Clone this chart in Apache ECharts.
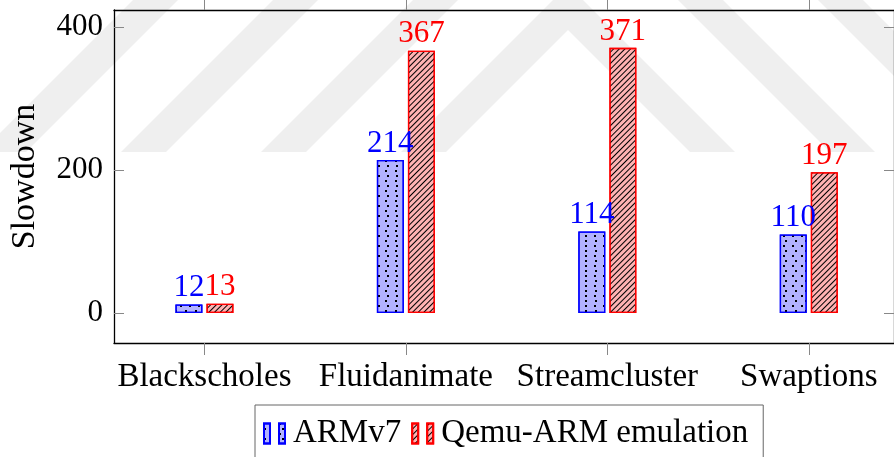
<!DOCTYPE html>
<html>
<head>
<meta charset="utf-8">
<script src="https://cdn.jsdelivr.net/npm/echarts@6/dist/echarts.min.js"></script>
<style>
	html, body { margin: 0; padding: 0; background: #fff; }
	#chart { width: 894px; height: 457px; }
</style>
</head>
<body>
<div id="chart"></div>
<script>
var categories = ['Blackscholes', 'Fluidanimate', 'Streamcluster', 'Swaptions'];
var armv7 = [12, 214, 114, 110];
var qemuArm = [13, 367, 371, 197];
var yTicks = [0, 200, 400];
var xTicks = [0, 1, 2, 3];

var font = '"Liberation Serif", "DejaVu Serif", serif';

function toPairs(values){
	var out = [];
	for(var i = 0; i < values.length; i++)
		out.push([i, values[i]]);
	return out;
}

// faint striped watermark behind the plot
function watermark(){
	var cx = 568, apex = 30, step = 140, thick = 45, bottom = 152;
	var items = [];
	for(var k = 0; k < 4; k++){
		var yi = apex - step * k;
		var yo = yi - thick;
		items.push({
			type: 'polygon',
			silent: true,
			z: -10,
			shape: {
				points: [
					[cx - (bottom - yo), bottom], [cx, yo], [cx + (bottom - yo), bottom],
					[cx + (bottom - yi), bottom], [cx, yi], [cx - (bottom - yi), bottom]
				]
			},
			style: { fill: '#efefef' }
		});
	}
	return items;
}

var dotsDecal = {
	symbol: 'rect',
	symbolSize: 1,
	color: '#000',
	dashArrayX: [[2, 7], [0, 4.5, 2, 2.5]],
	dashArrayY: [2, 2.5],
	rotation: 0
};
var linesDecal = {
	symbol: 'rect',
	symbolSize: 1,
	color: '#000',
	dashArrayX: [1, 0],
	dashArrayY: [1, 2.6],
	rotation: -Math.PI / 4
};

function valueLabel(color){
	return {
		show: true,
		position: 'top',
		distance: 1,
		color: color,
		fontFamily: font,
		fontSize: 31,
		formatter: function(p){ return p.value[1]; }
	};
}

var xMin = -0.449, xMax = 3.423;
var yMin = -42, yMax = 424;

var option = {
	animation: false,
	graphic: watermark(),
	grid: { left: 114, right: -3, top: 10, bottom: 114 },
	legend: {
		left: 255,
		top: 405,
		padding: [12, 15, 20, 8],
		borderColor: '#666',
		borderWidth: 1,
		itemWidth: 21,
		itemHeight: 21,
		itemGap: 10,
		icon: 'path://M0,0h6v20h-6zM15,0h6v20h-6z',
		textStyle: { fontFamily: font, fontSize: 33, color: '#000', padding: [0, 0, 0, 3] },
		data: ['ARMv7', 'Qemu-ARM emulation']
	},
	xAxis: [
		{
			type: 'value',
			min: xMin,
			max: xMax,
			position: 'bottom',
			axisLine: { show: true, onZero: false, lineStyle: { color: '#000', width: 1.3 } },
			axisTick: { show: true, inside: false, length: 12, customValues: xTicks, lineStyle: { color: '#888' } },
			axisLabel: {
				customValues: xTicks,
				margin: 18,
				fontFamily: font,
				fontSize: 33,
				color: '#000',
				formatter: function(v){ return categories[Math.round(v)]; }
			},
			splitLine: { show: false }
		},
		{
			type: 'value',
			min: xMin,
			max: xMax,
			position: 'top',
			axisLine: { show: true, onZero: false, lineStyle: { color: '#000', width: 1.3 } },
			axisTick: { show: true, inside: false, length: 12, customValues: xTicks, lineStyle: { color: '#888' } },
			axisLabel: { show: false },
			splitLine: { show: false }
		}
	],
	yAxis: [
		{
			type: 'value',
			min: yMin,
			max: yMax,
			position: 'left',
			name: 'Slowdown',
			nameLocation: 'middle',
			nameGap: 72,
			nameTextStyle: { fontFamily: font, fontSize: 34, color: '#000' },
			axisLine: { show: true, onZero: false, lineStyle: { color: '#000', width: 1.3 } },
			axisTick: { show: true, inside: true, length: 10, customValues: yTicks, lineStyle: { color: '#888' } },
			axisLabel: { customValues: yTicks, margin: 11, fontFamily: font, fontSize: 31, color: '#000' },
			splitLine: { show: false }
		},
		{
			type: 'value',
			min: yMin,
			max: yMax,
			position: 'right',
			axisLine: { show: true, onZero: false, lineStyle: { color: '#000', width: 1.3 } },
			axisTick: { show: true, inside: true, length: 10, customValues: yTicks, lineStyle: { color: '#888' } },
			axisLabel: { show: false },
			splitLine: { show: false }
		}
	],
	series: [
		{
			name: 'ARMv7',
			type: 'bar',
			barWidth: 27,
			barGap: '15%',
			data: toPairs(armv7),
			itemStyle: { color: '#b3b3ff', borderColor: '#0000ff', borderWidth: 1.3, decal: dotsDecal },
			label: valueLabel('#0000ff')
		},
		{
			name: 'Qemu-ARM emulation',
			type: 'bar',
			barWidth: 27,
			barGap: '15%',
			data: toPairs(qemuArm),
			itemStyle: { color: '#ffb3b3', borderColor: '#ff0000', borderWidth: 1.3, decal: linesDecal },
			label: valueLabel('#ff0000')
		}
	]
};

var chart = echarts.init(document.getElementById('chart'));
chart.setOption(option);
</script>
</body>
</html>
